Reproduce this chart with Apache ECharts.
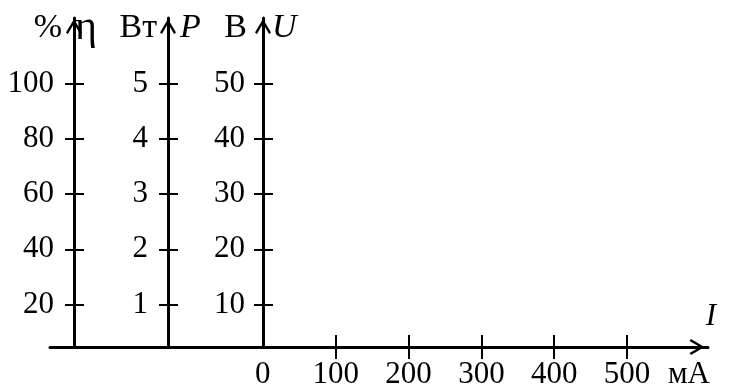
<!DOCTYPE html>
<html lang="ru">
<head>
<meta charset="UTF-8">
<title>η, P, U (I)</title>
<script src="https://cdn.jsdelivr.net/npm/echarts@6/dist/echarts.min.js"></script>
<style>html, body { margin: 0; padding: 0; background: #fff; }</style>
</head>
<body>
<div id="main" style="width: 751px; height: 390px;"></div>
<script>
// ток, мА
var currentTicks = [100, 200, 300, 400, 500];
var currentLabels = [0, 100, 200, 300, 400, 500];
// КПД, %
var etaTicks = [20, 40, 60, 80, 100];
// мощность, Вт
var powerTicks = [1, 2, 3, 4, 5];
// напряжение, В
var voltageTicks = [10, 20, 30, 40, 50];

var FONT = '"Liberation Serif", "Times New Roman", serif';
var arrow = 'path://M50,0 L100,84 L88,93 L50,28 L12,93 L0,84 Z';

// ось с подписями и засечками наружу + копия с засечками внутрь;
// слева от стрелки единица измерения, справа обозначение величины
function yPair(ticks, step, offset, unit, sym, opts) {
    var min = step * 0.233, max = step * 6.183;
    var main = {
        type: 'value', position: 'left', offset: offset, min: min, max: max,
        splitLine: {show: false},
        axisLine: {show: true, onZero: false, symbol: ['none', arrow],
            symbolSize: [16, 17], symbolOffset: [0, -8.5],
            lineStyle: {color: '#000', width: 3}},
        axisTick: {show: true, length: 9, customValues: ticks, lineStyle: {color: '#000', width: 2}},
        axisLabel: {show: true, margin: opts.margin, customValues: ticks, color: '#000', fontSize: 31, fontFamily: FONT},
        name: unit, nameLocation: 'end', nameGap: -10, nameMoveOverlap: false,
        nameTextStyle: {color: '#000', fontSize: 34, fontFamily: FONT,
            align: 'right', verticalAlign: 'middle', padding: [0, opts.gapL, 0, 0]}
    };
    var inner = {
        type: 'value', position: 'left', offset: offset, min: min, max: max,
        splitLine: {show: false},
        axisLine: {show: false, onZero: false},
        axisTick: {show: true, inside: true, length: 10, customValues: ticks, lineStyle: {color: '#000', width: 2}},
        axisLabel: {show: false},
        name: sym, nameLocation: 'end', nameGap: -10, nameMoveOverlap: false,
        nameTextStyle: {color: '#000', fontSize: opts.symSize, fontFamily: FONT,
            fontStyle: opts.italic ? 'italic' : 'normal',
            align: 'left', verticalAlign: 'middle', padding: [0, 0, 0, opts.gapR]}
    };
    return [main, inner];
}

var yAxes = []
    .concat(yPair(etaTicks, 20, -24, '%', 'η', {margin: 20, gapL: 12, gapR: 1, symSize: 42, italic: false}))
    .concat(yPair(powerTicks, 1, -118, 'Вт', 'P', {margin: 20, gapL: 11, gapR: 12, symSize: 34, italic: true}))
    .concat(yPair(voltageTicks, 10, -213, 'В', 'U', {margin: 18, gapL: 16, gapR: 9, symSize: 34, italic: true}));

var myChart = echarts.init(document.getElementById('main'));

var option = {
    animation: false,
    backgroundColor: '#fff',
    grid: {left: 50, right: 43, top: 18, bottom: 43, containLabel: false, outerBoundsMode: 'none'},
    xAxis: [
        {
            type: 'value', position: 'bottom', min: -292, max: 611,
            splitLine: {show: false},
            axisLine: {show: true, onZero: false, symbol: ['none', arrow],
                symbolSize: [16, 22], symbolOffset: [0, -11],
                lineStyle: {color: '#000', width: 3}},
            axisTick: {show: true, length: 12, customValues: currentTicks, lineStyle: {color: '#000', width: 2}},
            axisLabel: {show: true, margin: 12, customValues: currentLabels, color: '#000', fontSize: 31, fontFamily: FONT},
            name: 'мА', nameLocation: 'end', nameGap: -40, nameMoveOverlap: false,
            nameTextStyle: {color: '#000', fontSize: 31, fontFamily: FONT, align: 'left', verticalAlign: 'top', padding: [12, 0, 0, 0]}
        },
        {
            type: 'value', position: 'bottom', min: -292, max: 611,
            splitLine: {show: false},
            axisLine: {show: false, onZero: false},
            axisTick: {show: true, inside: true, length: 12, customValues: currentTicks, lineStyle: {color: '#000', width: 2}},
            axisLabel: {show: false},
            name: 'I', nameLocation: 'end', nameGap: 3, nameMoveOverlap: false,
            nameTextStyle: {color: '#000', fontSize: 31, fontStyle: 'italic', fontFamily: FONT, align: 'center', verticalAlign: 'bottom', padding: [0, 0, 15, 0]}
        }
    ],
    yAxis: yAxes,
    series: [{type: 'line', data: [], xAxisIndex: 0, yAxisIndex: 0}]
};

myChart.setOption(option);
</script>
</body>
</html>
